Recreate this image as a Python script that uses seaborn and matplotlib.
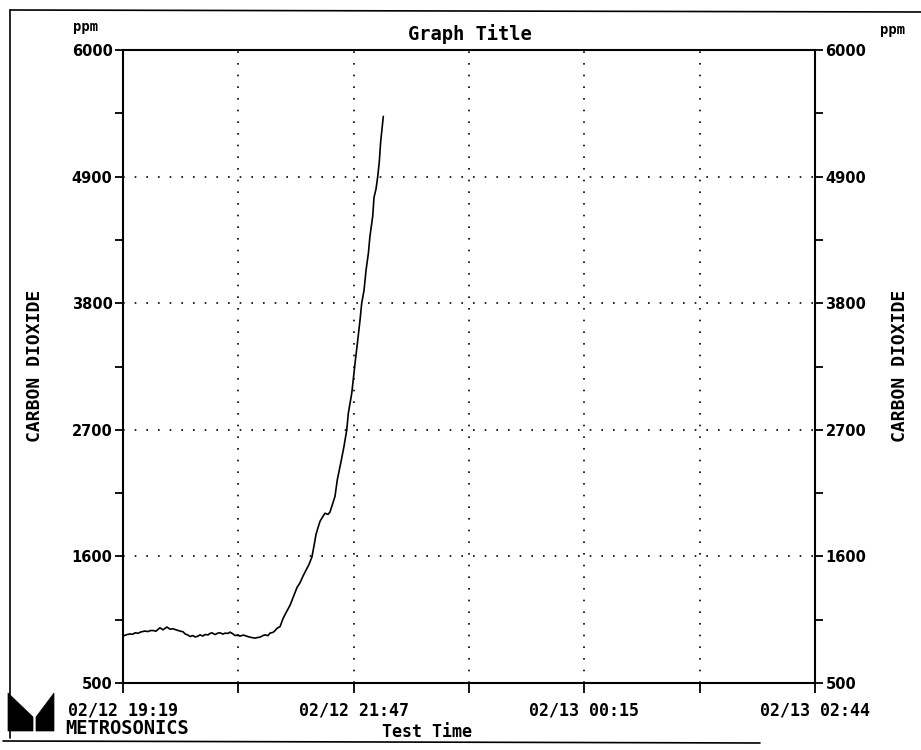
import numpy as np
import pandas as pd
import matplotlib
matplotlib.use("Agg")
import matplotlib.pyplot as plt
from matplotlib.patches import Polygon
from matplotlib.lines import Line2D
from matplotlib.ticker import FixedLocator
import seaborn as sns

# Logged CO2 readings: minutes elapsed since 02/12 19:19, concentration in ppm
minutes = [
    0.0, 1.3, 2.6, 4.5, 6.4, 7.7, 9.6, 11.6, 14.1, 16.1, 17.4, 19.3, 21.2, 22.5,
    23.8, 25.7, 27.0, 28.3, 30.2, 32.2, 34.1, 36.7, 38.6, 39.9, 41.8, 43.1, 45.0,
    46.3, 48.2, 49.5, 51.4, 52.7, 54.7, 55.9, 57.2, 59.2, 61.1, 62.4, 64.3, 65.6,
    67.5, 68.8, 70.8, 72.0, 74.0, 75.2, 77.2, 78.5, 80.4, 81.7, 83.6, 84.9, 86.8,
    88.1, 90.0, 91.3, 93.3, 94.5, 96.5, 97.8, 99.0, 101.0, 102.9, 104.8, 107.4,
    109.3, 111.9, 113.8, 115.8, 117.7, 119.6, 121.5, 122.8, 124.1, 125.4, 126.7,
    128.0, 129.9, 131.8, 133.1, 134.4, 136.3, 137.8, 140.0, 142.1, 143.9, 144.9,
    147.1, 149.2, 150.7, 152.4, 153.5, 155.0, 156.3, 157.8, 158.8, 160.6, 161.4,
    162.7, 163.8, 164.8, 165.7, 167.4,
]
co2_ppm = [
    907, 915, 921, 926, 924, 936, 932, 944, 951, 947, 955, 956, 950, 966,
    980, 962, 975, 986, 968, 971, 962, 951, 945, 927, 916, 904, 912,
    900, 907, 918, 908, 921, 918, 930, 936, 921, 934, 936, 925, 933,
    931, 942, 926, 912, 918, 907, 916, 912, 903, 898, 893, 890, 896,
    898, 912, 918, 912, 933, 940, 955, 975, 990, 1060, 1110, 1175,
    1240, 1330, 1370, 1430, 1480, 1530, 1595, 1690, 1790, 1850, 1905,
    1935, 1975, 1965, 1985, 2040, 2120, 2265, 2410, 2555, 2700, 2844,
    3017, 3276, 3449, 3651, 3800, 3912, 4088, 4235, 4381, 4557, 4719,
    4792, 4900, 5027, 5203, 5423,
]

span_minutes = 445
y_ticks = [500, 1600, 2700, 3800, 4900, 6000]
x_tick_labels = ["02/12 19:19", "", "02/12 21:47", "", "02/13 00:15", "", "02/13 02:44"]

df = pd.DataFrame({"minutes": minutes, "ppm": co2_ppm})

sns.set_style("ticks")
plt.rcParams["font.family"] = ["DejaVu Sans"]

W, H = 921, 750
fig = plt.figure(figsize=(W / 100, H / 100), dpi=100)


def fx(px):
    return px / W


def fy(py):
    return 1 - py / H


left, right, top, bottom = 123, 815, 50, 683
ax = fig.add_axes([fx(left), fy(bottom), fx(right) - fx(left), fy(top) - fy(bottom)])

sns.lineplot(data=df, x="minutes", y="ppm", ax=ax, color="black",
             linewidth=1.2, estimator=None, sort=False)

ax.set_xlim(0, span_minutes)
ax.set_ylim(y_ticks[0], y_ticks[-1])
ax.set_xlabel("")
ax.set_ylabel("")

# Axis ticks
x_ticks = np.linspace(0, span_minutes, len(x_tick_labels))
ax.set_xticks(x_ticks)
ax.set_xticklabels(x_tick_labels, family="DejaVu Sans Mono", fontweight="bold",
                   fontsize=12)
ax.set_yticks(y_ticks)
ax.set_yticklabels([str(v) for v in y_ticks], fontweight="bold", fontsize=10.5)
minor_y = [(a + b) / 2 for a, b in zip(y_ticks[:-1], y_ticks[1:])]
ax.yaxis.set_minor_locator(FixedLocator(minor_y))

ax.tick_params(axis="x", direction="out", length=7, width=1.3, pad=6,
               colors="black")
ax.tick_params(axis="y", which="both", direction="out", left=True, right=True,
               labelleft=True, labelright=True, width=1.3, colors="black")
ax.tick_params(axis="y", which="major", length=5.5, pad=2)
ax.tick_params(axis="y", which="minor", length=5.5)

for side in ["left", "right", "top", "bottom"]:
    ax.spines[side].set_visible(True)
    ax.spines[side].set_linewidth(1.5)
    ax.spines[side].set_color("black")

# Sparse dotted grid
ax.grid(True, which="major", color="black", linestyle=(0, (1, 6)), linewidth=1.2)
ax.set_axisbelow(True)

mono = dict(family="DejaVu Sans Mono", fontweight="bold", color="black")

fig.text(fx(470), fy(34), "Graph Title", ha="center", va="center", fontsize=13.5, **mono)
fig.text(fx(86), fy(27), "ppm", ha="center", va="center", fontsize=10, **mono)
fig.text(fx(893), fy(30), "ppm", ha="center", va="center", fontsize=10, **mono)
fig.text(fx(35), fy(366), "CARBON DIOXIDE", ha="center", va="center",
         rotation=90, fontsize=13, **mono)
fig.text(fx(900), fy(366), "CARBON DIOXIDE", ha="center", va="center",
         rotation=90, fontsize=13, **mono)
fig.text(fx(427), fy(732), "Test Time", ha="center", va="center", fontsize=12, **mono)
fig.text(fx(127), fy(728), "METROSONICS", ha="center", va="center", fontsize=13.5, **mono)

# Company logo
logo_left = [(8, 693), (33, 717), (33, 731), (8, 731)]
logo_right = [(36, 717), (54, 693), (54, 731), (36, 731)]
for pts in (logo_left, logo_right):
    fig.patches.append(Polygon([(fx(a), fy(b)) for a, b in pts], closed=True,
                               transform=fig.transFigure, facecolor="black",
                               edgecolor="black", linewidth=0.5))

# Page frame
frame = [
    ([10, 10], [10, 738]),
    ([10, 921], [10, 12]),
    ([3, 760], [741, 743]),
]
for xs, ys in frame:
    fig.lines.append(Line2D([fx(v) for v in xs], [fy(v) for v in ys],
                            transform=fig.transFigure, color="black", linewidth=1.2))

fig.savefig("out.png", dpi=100, facecolor="white")
